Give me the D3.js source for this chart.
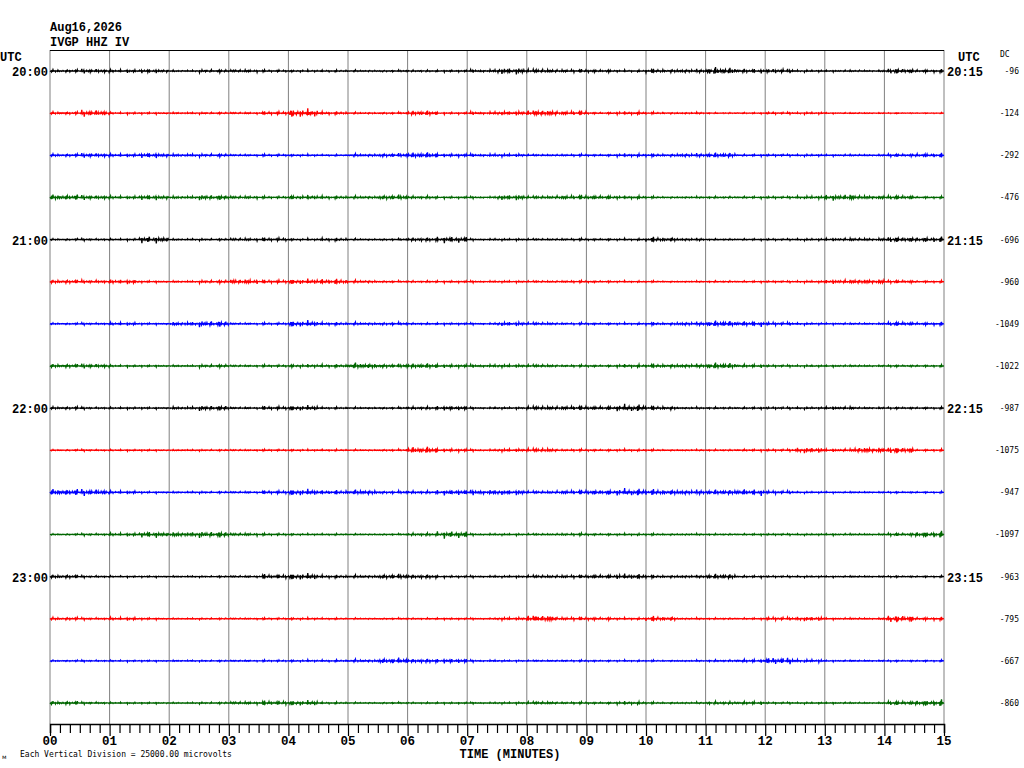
<!DOCTYPE html>
<html>
<head>
<meta charset="utf-8">
<script src="https://cdn.jsdelivr.net/npm/d3@7"></script>
<style>
  body { margin: 0; background: #fff; }
  text { font-family: "Liberation Mono", "DejaVu Sans Mono", monospace; }
</style>
</head>
<body>
<div id="heli"></div>
<script>
// header info
const dateLabel = "Aug16,2026";
const stationLabel = "IVGP HHZ IV";

// one row per 15 minutes, 20:00 -> 23:45
const leftHours = ["20:00", null, null, null, "21:00", null, null, null, "22:00", null, null, null, "23:00", null, null, null];
const rightHours = ["20:15", null, null, null, "21:15", null, null, null, "22:15", null, null, null, "23:15", null, null, null];
const dcValues = [-96, -124, -292, -476, -696, -960, -1049, -1022, -987, -1075, -947, -1097, -963, -795, -667, -860];
const traceColors = ["#000000", "#ff0000", "#0000ff", "#006600"];
const minuteTicks = d3.range(0, 16);
const microvoltsPerDivision = 25000;

// peak amplitude (microvolts) of each row, one value per 30 s
const env0  = [900,1200,900,1200,600,900,900,600,600,600,600,600,600,600,900,1800,1200,900,900,600,1200,1200,2100,1200,1200,600,600,600,1500,900];
const env1  = [900,1800,600,600,600,600,600,900,2400,900,600,600,1500,600,900,1200,1800,1200,600,900,600,600,400,400,600,600,400,400,300,300];
const env2  = [900,1200,900,1500,900,900,600,600,600,500,900,1200,1800,900,900,900,600,600,600,900,900,1200,1500,600,600,600,600,600,900,1200];
const env3  = [1800,1200,900,1500,900,1500,900,600,1200,900,900,1500,900,600,600,1500,900,1200,1200,900,600,600,600,600,600,900,1800,1200,1200,600];
const env4  = [600,600,600,2100,600,600,900,900,600,900,600,600,1200,1800,600,600,600,600,600,600,1500,900,500,500,500,600,900,900,1500,1500];
const env5  = [1200,900,1200,600,600,900,1500,900,1500,1500,900,600,600,600,600,600,600,600,600,500,500,500,500,500,500,600,1200,1500,900,600];
const env6  = [600,600,900,600,1200,1800,600,600,1800,900,900,900,600,600,600,1200,900,600,600,600,900,1200,1800,1500,900,600,600,600,1200,900];
const env7  = [1200,1200,600,600,600,900,600,600,900,900,1800,1200,1500,900,900,900,900,600,600,900,1200,1200,1800,900,600,600,600,600,600,600];
const env8  = [900,600,600,600,900,1500,600,900,1500,600,600,600,900,1200,600,600,1200,1200,1200,2100,1200,600,600,600,600,600,900,600,600,600];
const env9  = [500,500,500,500,500,500,500,500,500,500,500,600,2100,900,600,900,1200,600,600,600,500,500,500,600,600,1500,900,1800,1800,600];
const env10 = [2100,1800,900,600,600,600,600,900,1800,1200,1500,900,900,1500,1500,1500,900,1200,1500,2100,1800,1500,1500,1800,900,500,500,500,500,500];
const env11 = [500,600,900,1800,1500,1800,900,600,500,500,500,500,900,2100,600,600,600,700,600,600,600,600,500,500,500,500,600,600,900,1800];
const env12 = [1200,600,500,500,500,500,600,1200,1800,900,900,1500,1200,600,600,600,900,900,1200,1500,900,900,1500,600,500,500,500,500,500,500];
const env13 = [900,600,900,600,500,500,500,500,600,500,500,500,500,500,500,900,2100,900,900,600,1500,600,500,500,900,1200,600,600,2100,900];
const env14 = [500,500,500,500,500,500,500,500,600,600,900,1800,1200,1200,600,500,500,500,500,500,500,500,600,900,1800,900,500,500,500,500];
const env15 = [1200,600,500,500,500,600,900,1200,1500,600,500,500,500,500,500,600,900,600,600,900,600,600,900,900,500,500,500,500,1200,1800];
const envelopes = [env0, env1, env2, env3, env4, env5, env6, env7, env8, env9, env10, env11, env12, env13, env14, env15];

// wiggle shape used to draw the trace inside its envelope
const wiggle = [0.1,-0.15,0.05,-0.6,0.2,-0.05,0.9,-0.2,0.0,-0.1,0.35,-1,0.15,0.0,0.05,-0.3,0.7,-0.1,0.05,-0.4,0.2,-0.05,0.5,-0.8,0.1,-0.2,1,-0.35,0.1];
const swell = [1,0.5,0.8,0.3,1.1,0.6,0.4,0.9,0.25,1.2,0.5,0.8,0.4];

const W = 1024, H = 768;
const plotLeft = 50, plotRight = 944, plotTop = 50, plotBottom = 724;

const svg = d3.select("#heli").append("svg")
    .attr("width", W)
    .attr("height", H);

const x = d3.scaleLinear().domain([0, 15]).range([plotLeft, plotRight]);
const row = d3.scaleLinear().domain([0, 15]).range([71, 703]);
const amp = d3.scaleLinear().domain([-microvoltsPerDivision / 2, microvoltsPerDivision / 2]).range([21, -21]);

// grid
svg.append("g").selectAll("line")
    .data(minuteTicks)
    .enter().append("line")
    .attr("x1", d => x(d)).attr("x2", d => x(d))
    .attr("y1", plotTop).attr("y2", plotBottom)
    .attr("stroke", "#808080")
    .attr("stroke-width", 1);

svg.append("line")
    .attr("x1", plotLeft).attr("x2", plotRight)
    .attr("y1", plotTop + 0.5).attr("y2", plotTop + 0.5)
    .attr("stroke", "#000");

// traces
const line = d3.line().x(d => d[0]).y(d => d[1]);
envelopes.forEach(function(env, i) {
    const y0 = row(i);
    const pts = d3.range(0, 900 * 2 + 1).map(function(j) {
        const sec = j / 2;
        const bin = Math.min(env.length - 1, Math.floor(sec / 30));
        const v = env[bin] * wiggle[j % wiggle.length] * swell[Math.floor(j / 7) % swell.length];
        return [x(sec / 60), y0 + amp(v)];
    });
    svg.append("path")
        .attr("d", line(pts))
        .attr("fill", "none")
        .attr("stroke", traceColors[i % 4])
        .attr("stroke-width", 1.3);
});

// bottom axis
const axis = d3.axisBottom(x)
    .tickValues(d3.range(0, 15 + 1e-9, 1 / 6))
    .tickSize(9)
    .tickFormat("");
const ax = svg.append("g").attr("transform", "translate(0," + plotBottom + ")").call(axis);
ax.select(".domain").attr("stroke", "#000").attr("stroke-width", 1.5);
ax.selectAll(".tick line").attr("stroke", "#000").attr("stroke-width", 1.2)
    .attr("y2", d => Math.abs(d - Math.round(d)) < 1e-6 ? 12 : 9);

svg.append("g").selectAll("text")
    .data(minuteTicks)
    .enter().append("text")
    .attr("x", d => x(d))
    .attr("y", 745)
    .attr("text-anchor", "middle")
    .style("font-size", "12.5px")
    .style("font-weight", "bold")
    .text(d => d3.format("02d")(d));

svg.append("text")
    .attr("x", 510).attr("y", 758)
    .attr("text-anchor", "middle")
    .style("font-size", "12px").style("font-weight", "bold")
    .text("TIME (MINUTES)");

svg.append("text")
    .attr("x", 20).attr("y", 757)
    .style("font-family", "DejaVu Sans Mono")
    .style("font-size", "8px")
    .text("Each Vertical Division = 25000.00 microvolts");

svg.append("text")
    .attr("x", 2).attr("y", 759)
    .style("font-family", "DejaVu Sans")
    .style("font-size", "6px")
    .text("м");

// header
svg.append("text").attr("x", 50).attr("y", 31)
    .style("font-size", "12px").style("font-weight", "bold")
    .text(dateLabel);
svg.append("text").attr("x", 50).attr("y", 46)
    .style("font-size", "12px").style("font-weight", "bold")
    .text(stationLabel);

svg.append("text").attr("x", 0).attr("y", 61)
    .style("font-size", "12px").style("font-weight", "bold")
    .text("UTC");
svg.append("text").attr("x", 958).attr("y", 61)
    .style("font-size", "12px").style("font-weight", "bold")
    .text("UTC");
svg.append("text").attr("x", 1000).attr("y", 57)
    .style("font-family", "DejaVu Sans Mono")
    .style("font-size", "8px")
    .text("DC");

// hour labels
svg.append("g").selectAll("text")
    .data(leftHours.map((d, i) => ({label: d, i: i})).filter(d => d.label))
    .enter().append("text")
    .attr("x", 48)
    .attr("y", d => row(d.i) + 5)
    .attr("text-anchor", "end")
    .style("font-size", "12px").style("font-weight", "bold")
    .text(d => d.label);

svg.append("g").selectAll("text")
    .data(rightHours.map((d, i) => ({label: d, i: i})).filter(d => d.label))
    .enter().append("text")
    .attr("x", 947)
    .attr("y", d => row(d.i) + 5)
    .style("font-size", "12px").style("font-weight", "bold")
    .text(d => d.label);

svg.append("g").selectAll("text")
    .data(dcValues)
    .enter().append("text")
    .attr("x", 1019)
    .attr("y", (d, i) => row(i) + 3)
    .attr("text-anchor", "end")
    .style("font-family", "DejaVu Sans Mono")
    .style("font-size", "8px")
    .text(d => d);
</script>
</body>
</html>
